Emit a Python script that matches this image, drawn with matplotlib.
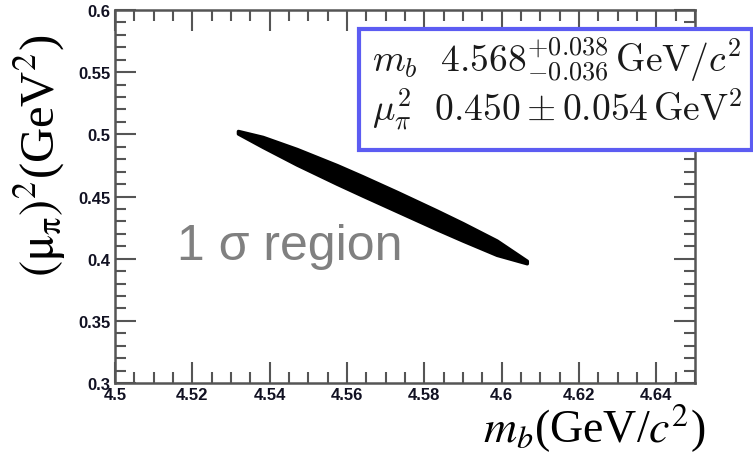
import matplotlib.pyplot as plt
import matplotlib.patches as patches
from matplotlib.ticker import MultipleLocator

# 1 sigma band: upper and lower edges
band_x   = [4.5318, 4.5382, 4.5470, 4.5574, 4.5641, 4.5729, 4.5832, 4.5899, 4.5987, 4.6065]
band_top = [0.5027, 0.4979, 0.4882, 0.4752, 0.4661, 0.4537, 0.4387, 0.4286, 0.4146, 0.3983]
band_bot = [0.5007, 0.4899, 0.4757, 0.4602, 0.4506, 0.4382, 0.4237, 0.4146, 0.4031, 0.3963]

xticks = [4.5, 4.52, 4.54, 4.56, 4.58, 4.6, 4.62, 4.64]
xtick_labels = ['4.5', '4.52', '4.54', '4.56', '4.58', '4.6', '4.62', '4.64']
yticks = [0.3, 0.35, 0.4, 0.45, 0.5, 0.55, 0.6]
ytick_labels = ['0.3', '0.35', '0.4', '0.45', '0.5', '0.55', '0.6']

fig = plt.figure(figsize=(7.53, 4.64), dpi=100)
ax = fig.add_axes([0.1527, 0.1724, 0.7703, 0.8039])

ax.fill_between(band_x, band_bot, band_top, facecolor='black', edgecolor='black',
                lw=2.5, joinstyle='round')

ax.set_xlim(4.5, 4.65)
ax.set_ylim(0.3, 0.6)
ax.set_xticks(xticks)
ax.set_xticklabels(xtick_labels)
ax.set_yticks(yticks)
ax.set_yticklabels(ytick_labels)
ax.xaxis.set_minor_locator(MultipleLocator(0.005))
ax.yaxis.set_minor_locator(MultipleLocator(0.01))
ax.tick_params(which='both', direction='in', top=True, right=True, color='#555555', width=1.5)
ax.tick_params(which='major', length=15, pad=3)
ax.tick_params(which='minor', length=8)
for lab in ax.get_xticklabels() + ax.get_yticklabels():
    lab.set_fontfamily('Liberation Sans')
    lab.set_fontweight('bold')
    lab.set_fontsize(12)
    lab.set_color('#111122')
for sp in ax.spines.values():
    sp.set_color('#555555')
    sp.set_linewidth(1.8)

ax.text(4.5160, 0.3995, '1 \u03c3 region', fontsize=36, color='#808080',
        family='Liberation Sans', va='baseline', ha='left')

fig.text(0.937, 0.0453, r'$m_b$(GeV/$c^2$)', fontsize=33, family='Liberation Serif',
         math_fontfamily='stix', ha='right', va='baseline')
fig.text(0.053, 0.665, r'$(\mathrm{\mu}_\mathrm{\pi})^2$(GeV$^2$)', fontsize=35,
         family='Liberation Serif', math_fontfamily='stix',
         rotation=90, ha='center', va='center')

box = patches.Rectangle((0.4768, 0.6746), 0.5219, 0.2608, transform=fig.transFigure,
                        facecolor='white', edgecolor='#5c5cf2', lw=3, zorder=5)
fig.patches.append(box)
fig.text(0.494, 0.845, r'$m_b\ \ 4.568^{+0.038}_{-0.036}\,\mathrm{GeV}/c^2$',
         fontsize=27, color='#1a1a1a', math_fontfamily='cm',
         va='baseline', ha='left', zorder=6)
fig.text(0.494, 0.741, r'$\mu_\pi^2\ \ 0.450\pm0.054\,\mathrm{GeV}^2$',
         fontsize=27, color='#1a1a1a', math_fontfamily='cm',
         va='baseline', ha='left', zorder=6)

fig.savefig('out.png', dpi=100)
